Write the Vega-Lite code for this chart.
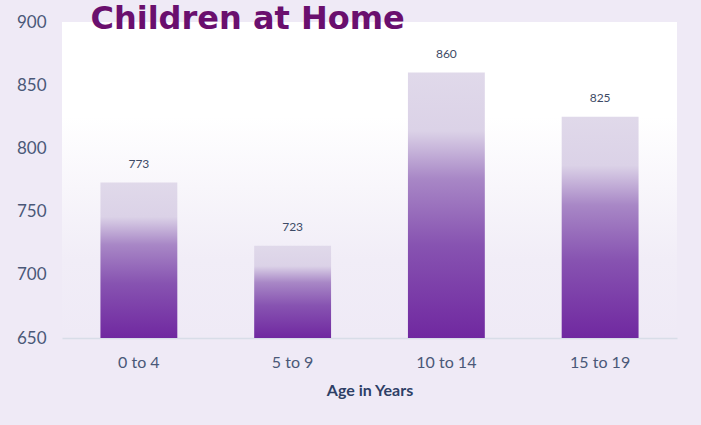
{
  "$schema": "https://vega.github.io/schema/vega-lite/v6.json",
  "autosize": {"type": "none"},
  "width": 615,
  "height": 316,
  "padding": {"left": 62, "top": 22, "right": 24, "bottom": 87},
  "background": "#efeaf6",
  "title": {
    "text": "Children at Home",
    "anchor": "start",
    "font": "DejaVu Sans",
    "fontSize": 32,
    "fontWeight": "bold",
    "color": "#6a0f6e",
    "dx": 74,
    "dy": 28,
    "baseline": "alphabetic",
    "offset": -20
  },
  "config": {
    "view": {
      "stroke": null,
      "fill": {
        "gradient": "linear",
        "x1": 0, "y1": 0, "x2": 0, "y2": 1,
        "stops": [
          {"offset": 0, "color": "#ffffff"},
          {"offset": 0.3, "color": "#ffffff"},
          {"offset": 0.75, "color": "#f1edf7"},
          {"offset": 1, "color": "#efeaf6"}
        ]
      }
    }
  },
  "data": {
    "values": [
      {"age": "0 to 4", "count": 773},
      {"age": "5 to 9", "count": 723},
      {"age": "10 to 14", "count": 860},
      {"age": "15 to 19", "count": 825}
    ]
  },
  "encoding": {
    "x": {
      "field": "age",
      "type": "nominal",
      "sort": null,
      "scale": {"paddingInner": 0.5, "paddingOuter": 0.25},
      "axis": {
        "title": "Age in Years",
        "labelAngle": 0,
        "ticks": false,
        "domainColor": "#d8dde8",
        "domainWidth": 1.5,
        "labelFont": "Lato",
        "labelFontSize": 16,
        "labelColor": "#4a5878",
        "labelPadding": 16,
        "titleFont": "Lato",
        "titleFontSize": 16,
        "titleFontWeight": "bold",
        "titleColor": "#2e3f66",
        "titlePadding": 12
      }
    },
    "y": {
      "field": "count",
      "type": "quantitative",
      "scale": {"domain": [650, 900], "zero": false, "nice": false},
      "axis": {
        "title": null,
        "values": [650, 700, 750, 800, 850, 900],
        "grid": false,
        "domain": false,
        "ticks": false,
        "labelFont": "Lato",
        "labelFontSize": 17,
        "labelColor": "#4a5878",
        "labelPadding": 16
      }
    }
  },
  "layer": [
    {
      "mark": {
        "type": "bar",
        "color": {
          "gradient": "linear",
          "x1": 0, "y1": 0, "x2": 0, "y2": 1,
          "stops": [
            {"offset": 0, "color": "#e0d9ea"},
            {"offset": 0.22, "color": "#dbd2e7"},
            {"offset": 0.4, "color": "#a887c6"},
            {"offset": 0.65, "color": "#8753b1"},
            {"offset": 1, "color": "#7028a0"}
          ]
        }
      },
      "encoding": {"y2": {"datum": 650}}
    },
    {
      "mark": {
        "type": "text",
        "dy": -12,
        "baseline": "bottom",
        "font": "Lato",
        "fontSize": 12,
        "color": "#3d4a66"
      },
      "encoding": {"text": {"field": "count", "type": "quantitative"}}
    }
  ]
}
